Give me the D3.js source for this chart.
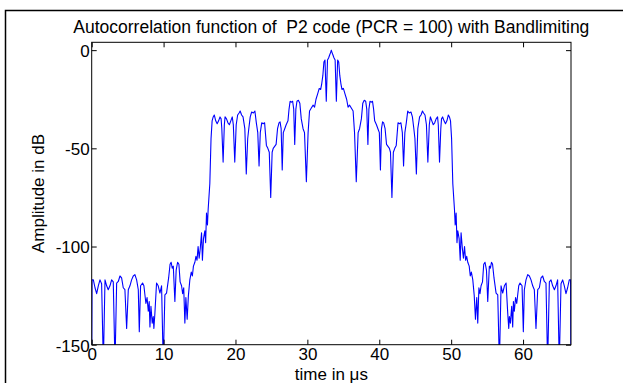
<!DOCTYPE html>
<html>
<head>
<meta charset="utf-8">
<script src="https://cdn.jsdelivr.net/npm/d3@7/dist/d3.min.js"></script>
<style>
  html, body { margin: 0; padding: 0; background: #fff; }
  svg { display: block; }
  text { font-family: "Liberation Sans", Arial, sans-serif; fill: #000; white-space: pre; }
</style>
</head>
<body>
<svg id="chart" width="623" height="383"></svg>
<script>
const titleText = "Autocorrelation function of  P2 code (PCR = 100) with Bandlimiting";
const xLabelText = "time in \u03bcs";
const yLabelText = "Amplitude in dB";
const xTicks = [0, 10, 20, 30, 40, 50, 60];
const yTicks = [-150, -100, -50, 0];
const xDomain = [0, 66.67];
const yDomain = [-150, 4];

const timeUs = [
  0.0, 0.05, 0.23, 0.46, 0.69, 0.92, 1.15, 1.38, 1.62, 1.85, 2.08, 2.3, 2.54, 2.77, 3.0, 3.24, 3.47, 3.7, 3.93, 4.16,
  4.39, 4.62, 4.86, 5.09, 5.32, 5.55, 5.78, 6.01, 6.25, 6.48, 6.62, 6.8, 7.08, 7.26, 7.54, 7.7, 7.87, 8.0, 8.1, 8.24,
  8.42, 8.56, 8.65, 8.79, 9.02, 9.25, 9.49, 9.72, 9.95, 10.18, 10.41, 10.7, 10.9, 11.05, 11.2, 11.35, 11.57, 11.75, 11.95, 12.13,
  12.3, 12.5, 12.65, 12.8, 12.96, 13.1, 13.28, 13.45, 13.65, 13.85, 14.0, 14.15, 14.35, 14.5, 14.65, 14.8, 14.95, 15.1, 15.28, 15.4,
  15.55, 15.74, 15.85, 15.97, 16.1, 16.2, 16.43, 16.6, 16.75, 16.9, 17.05, 17.25, 17.45, 17.65, 17.85, 18.0, 18.1, 18.28, 18.45, 18.55,
  18.75, 18.95, 19.15, 19.35, 19.55, 19.7, 19.9, 20.1, 20.3, 20.5, 20.65, 20.85, 21.05, 21.3, 21.5, 21.7, 21.85, 22.05, 22.25, 22.5,
  22.7, 22.9, 23.1, 23.28, 23.45, 23.65, 23.85, 24.05, 24.3, 24.5, 24.7, 24.9, 25.1, 25.25, 25.45, 25.65, 25.85, 26.05, 26.2, 26.35,
  26.5, 26.65, 26.85, 27.05, 27.3, 27.45, 27.6, 27.8, 27.95, 28.1, 28.24, 28.4, 28.55, 28.75, 28.95, 29.15, 29.4, 29.6, 29.86, 30.1,
  30.3, 30.55, 30.8, 31.0, 31.2, 31.45, 31.65, 31.85, 32.0, 32.15, 32.3, 32.45, 32.63, 32.8, 32.95, 33.1, 33.25, 33.33,
  33.41, 33.56, 33.71, 33.86, 34.03, 34.21, 34.36, 34.51, 34.66, 34.81, 35.01, 35.21, 35.46, 35.66, 35.86, 36.11, 36.36, 36.56, 36.8, 37.06,
  37.26, 37.51, 37.71, 37.91, 38.11, 38.26, 38.42, 38.56, 38.71, 38.86, 39.06, 39.21, 39.36, 39.61, 39.81, 40.01, 40.16, 40.31, 40.46, 40.61,
  40.81, 41.01, 41.21, 41.41, 41.56, 41.76, 41.96, 42.16, 42.36, 42.61, 42.81, 43.01, 43.21, 43.38, 43.56, 43.76, 43.96, 44.16, 44.41, 44.61,
  44.81, 44.96, 45.16, 45.36, 45.61, 45.81, 46.01, 46.16, 46.36, 46.56, 46.76, 46.96, 47.11, 47.31, 47.51, 47.71, 47.91, 48.11, 48.21, 48.38,
  48.56, 48.66, 48.81, 49.01, 49.21, 49.41, 49.61, 49.76, 49.91, 50.06, 50.23, 50.46, 50.56, 50.69, 50.81, 50.92, 51.11, 51.26, 51.38, 51.56,
  51.71, 51.86, 52.01, 52.16, 52.31, 52.51, 52.66, 52.81, 53.01, 53.21, 53.38, 53.56, 53.7, 53.86, 54.01, 54.16, 54.36, 54.53, 54.71, 54.91,
  55.09, 55.31, 55.46, 55.61, 55.76, 55.96, 56.25, 56.48, 56.71, 56.94, 57.17, 57.41, 57.64, 57.87, 58.01, 58.1, 58.24, 58.42, 58.56, 58.66,
  58.79, 58.96, 59.12, 59.4, 59.58, 59.86, 60.04, 60.18, 60.41, 60.65, 60.88, 61.11, 61.34, 61.57, 61.8, 62.04, 62.27, 62.5, 62.73, 62.96,
  63.19, 63.42, 63.66, 63.89, 64.12, 64.36, 64.58, 64.81, 65.04, 65.28, 65.51, 65.74, 65.97, 66.2, 66.43, 66.61, 66.66
];

const amplitudeDb = [
  -160, -117, -117, -121, -124, -120, -117, -119, -160, -117, -120, -122, -120, -117, -118, -160, -118.6, -117.8, -115, -116,
  -121, -122, -141.7, -122, -120, -117, -115, -114.3, -117, -122, -143.4, -120, -118.6, -120, -129, -126, -133, -128, -141, -130.5,
  -139, -135.7, -141.7, -134, -118.6, -120, -123.7, -120, -160, -124.6, -123.7, -116, -109, -108, -111, -110, -128, -112, -108, -109,
  -118, -120, -124, -121, -139, -126, -137, -125, -117, -113, -115, -110, -108, -105, -107, -100, -106, -101, -93, -107,
  -96, -92, -98, -83, -89, -81, -68, -45, -36, -34, -33, -36, -37.5, -36, -34, -35, -40, -57, -38, -34,
  -35, -37, -38, -36, -34, -38, -57, -38, -33, -32, -31, -33, -34, -40, -63, -45, -40, -34, -31.5, -32,
  -31, -37, -42, -59, -42, -37, -37.5, -37, -48.5, -50, -52, -75, -52, -50, -49, -48, -40, -37, -36.5, -40,
  -61, -42, -40, -38, -36, -30, -26, -26.5, -26, -30, -48, -30, -26, -25.5, -27, -35, -40, -42, -67, -42,
  -31, -29.5, -28, -29, -25, -22, -19.5, -20, -17, -13, -6, -5, -26, -5, -4, -2.5, -1, 0,
  -1, -2.5, -4, -5, -26, -5, -6, -13, -17, -20, -19.5, -22, -25, -29, -28, -29.5, -31, -42, -67, -42,
  -40, -35, -27, -25.5, -26, -30, -48, -30, -26, -26.5, -26, -30, -36, -38, -40, -42, -61, -40, -36.5, -37,
  -40, -48, -49, -50, -52, -75, -52, -50, -48.5, -37, -37.5, -37, -42, -59, -42, -37, -31, -32, -31.5, -34,
  -40, -45, -63, -40, -34, -33, -31, -32, -33, -38, -57, -38, -34, -36, -38, -37, -35, -34, -38, -57,
  -40, -35, -34, -36, -37.5, -36, -33, -34, -36, -45, -68, -81, -89, -83, -98, -92, -96, -107, -93, -101,
  -106, -100, -107, -105, -108, -110, -115, -113, -117, -125, -137, -126, -139, -121, -124, -120, -118, -109, -108, -112,
  -128, -110, -111, -108, -109, -116, -123.7, -124.6, -160, -120, -123.7, -120, -118.6, -134, -141.7, -135.7, -139, -130.5, -141, -128,
  -133, -126, -129, -120, -118.6, -120, -143.4, -122, -117, -114.3, -115, -117, -120, -122, -141.7, -122, -121, -116, -115, -117.8,
  -118.6, -160, -118, -117, -120, -122, -120, -117, -160, -119, -117, -120, -124, -121, -117, -117, -160
];

(function () {
const data = timeUs.map((t, i) => ({ t, v: amplitudeDb[i] }));

const svg = d3.select("#chart");
const W = 623, H = 383;
const pL = 91.7, pR = 571, pT = 42.3, pB = 344.7;
const fontSize = 17;

svg.append("rect").attr("x", 0).attr("y", 0).attr("width", W).attr("height", H).attr("fill", "#fff");
svg.append("rect").attr("x", 5.5).attr("y", 10.5).attr("width", 700).attr("height", 500)
  .attr("fill", "none").attr("stroke", "#000").attr("stroke-width", 1.5);

const x = d3.scaleLinear().domain(xDomain).range([pL, pR]);
const y = d3.scaleLinear().domain(yDomain).range([pB, pT]);

svg.append("defs").append("clipPath").attr("id", "clip")
  .append("rect").attr("x", pL).attr("y", pT).attr("width", pR - pL).attr("height", pB - pT);

const line = d3.line().x(d => x(d.t)).y(d => y(d.v));
svg.append("path").datum(data)
  .attr("clip-path", "url(#clip)")
  .attr("fill", "none").attr("stroke", "#0000ff").attr("stroke-width", 1.1)
  .attr("stroke-linejoin", "round")
  .attr("d", line);

const fmt = d => String(d);
function styleAxis(g) {
  g.select(".domain").remove();
  g.selectAll(".tick line").attr("stroke", "#000");
  g.selectAll("text").attr("font-size", fontSize).attr("font-family", '"Liberation Sans", Arial, sans-serif').attr("fill", "#000");
}
svg.append("g").attr("transform", `translate(0,${pB})`)
  .call(d3.axisBottom(x).tickValues(xTicks).tickFormat(fmt).tickSizeInner(-5).tickSizeOuter(0).tickPadding(3.5))
  .call(styleAxis);
svg.append("g").attr("transform", `translate(0,${pT})`)
  .call(d3.axisTop(x).tickValues(xTicks).tickFormat("").tickSizeInner(-5).tickSizeOuter(0))
  .call(styleAxis);
svg.append("g").attr("transform", `translate(${pL},0)`)
  .call(d3.axisLeft(y).tickValues(yTicks).tickFormat(fmt).tickSizeInner(-5).tickSizeOuter(0).tickPadding(2))
  .call(styleAxis)
  .selectAll("text").attr("dy", "0.38em");
svg.append("g").attr("transform", `translate(${pR},0)`)
  .call(d3.axisRight(y).tickValues(yTicks).tickFormat("").tickSizeInner(-5).tickSizeOuter(0))
  .call(styleAxis);

svg.append("rect").attr("x", pL).attr("y", pT).attr("width", pR - pL).attr("height", pB - pT)
  .attr("fill", "none").attr("stroke", "#000").attr("stroke-width", 1);

svg.append("text").attr("x", (pL + pR) / 2).attr("y", 33).attr("text-anchor", "middle")
  .attr("font-size", 17.5).attr("xml:space", "preserve").text(titleText);
svg.append("text").attr("x", (pL + pR) / 2).attr("y", 379.5).attr("text-anchor", "middle")
  .attr("font-size", fontSize).text(xLabelText);
svg.append("text").attr("transform", `translate(44,${(pT + pB) / 2}) rotate(-90)`).attr("text-anchor", "middle")
  .attr("font-size", fontSize).text(yLabelText);
})();
</script>
</body>
</html>
